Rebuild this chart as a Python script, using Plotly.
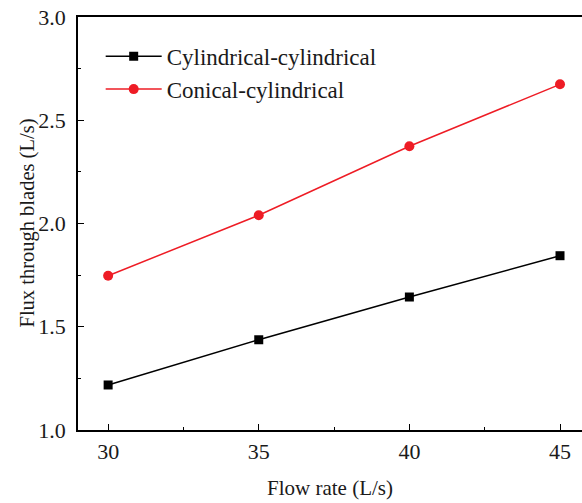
import plotly.graph_objects as go

flow_rate = [30, 35, 40, 45]
cyl_cyl = [1.218, 1.437, 1.644, 1.844]
con_cyl = [1.747, 2.040, 2.374, 2.674]
series_names = ["Cylindrical-cylindrical", "Conical-cylindrical"]
x_ticks = [30, 35, 40, 45]
y_ticks = [1.0, 1.5, 2.0, 2.5, 3.0]

FONT = "Liberation Serif, Times New Roman, serif"
TXT = "#1a1a1a"

fig = go.Figure()
fig.add_trace(go.Scatter(
    x=flow_rate, y=cyl_cyl, name=series_names[0], mode="lines+markers",
    line=dict(color="black", width=1.5),
    marker=dict(symbol="square", size=9, color="black"),
))
fig.add_trace(go.Scatter(
    x=flow_rate, y=con_cyl, name=series_names[1], mode="lines+markers",
    line=dict(color="#ee1c25", width=1.5),
    marker=dict(symbol="circle", size=10, color="#ee1c25"),
))

fig.update_layout(
    width=582, height=503,
    margin=dict(l=78, r=0, t=17, b=73),
    paper_bgcolor="white", plot_bgcolor="white",
    font=dict(family=FONT, size=21, color=TXT),
    showlegend=True,
    legend=dict(x=0.045, y=0.957, xanchor="left", yanchor="top",
                bgcolor="rgba(0,0,0,0)", font=dict(family=FONT, size=23, color=TXT),
                tracegroupgap=0, itemwidth=56),
    annotations=[dict(
        text="Flux through blades (L/s)", textangle=-90,
        xref="paper", yref="paper", x=(27 - 78) / 504, y=0.5,
        xanchor="center", yanchor="middle", showarrow=False,
        font=dict(family=FONT, size=20.5, color=TXT),
    )],
)
fig.update_xaxes(
    range=[29, 45.73], tickvals=x_ticks, ticktext=[str(v) for v in x_ticks],
    showgrid=False, zeroline=False,
    showline=True, linecolor="black", linewidth=1.5, mirror=True,
    ticks="inside", ticklen=6, tickwidth=1.2, tickcolor="black",
    minor=dict(tickvals=[32.5, 37.5, 42.5], ticks="inside", ticklen=3, tickwidth=1.2, tickcolor="black"),
    tickfont=dict(family=FONT, size=22, color=TXT),
    ticklabelstandoff=1,
    title=dict(text="Flow rate (L/s)", font=dict(family=FONT, size=21, color=TXT), standoff=17),
)
fig.update_yaxes(
    range=[1.0, 3.0], tickvals=y_ticks, ticktext=[f"{v:.1f}" for v in y_ticks],
    showgrid=False, zeroline=False,
    showline=True, linecolor="black", linewidth=1.5, mirror=False,
    ticks="inside", ticklen=6, tickwidth=1.2, tickcolor="black",
    minor=dict(tickvals=[1.25, 1.75, 2.25, 2.75], ticks="inside", ticklen=3, tickwidth=1.2, tickcolor="black"),
    tickfont=dict(family=FONT, size=22, color=TXT),
    ticklabelstandoff=6,
)

fig.write_html("out.html")
